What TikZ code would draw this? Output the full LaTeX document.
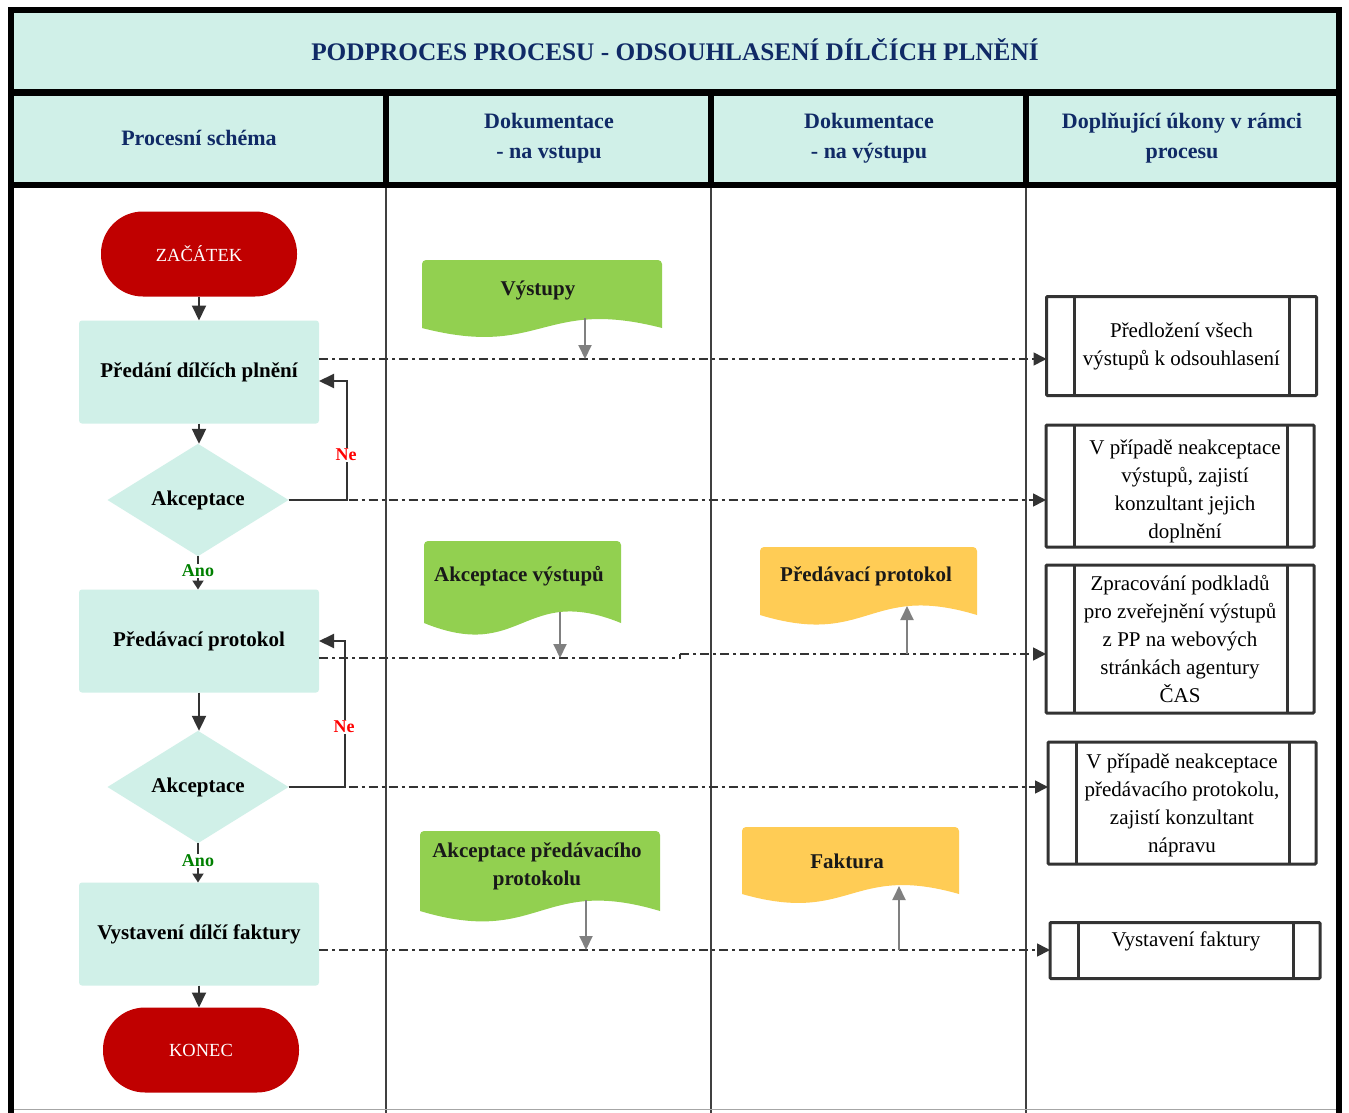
\documentclass[tikz,border=0pt]{standalone}
\usepackage{fontspec}
\setmainfont{Liberation Serif}
\usetikzlibrary{arrows.meta,shapes.geometric,calc}
\definecolor{mint}{RGB}{208,240,232}
\definecolor{navy}{RGB}{16,42,102}
\definecolor{termred}{RGB}{192,0,0}
\definecolor{docgreen}{RGB}{146,208,80}
\definecolor{docyellow}{RGB}{255,204,85}
\definecolor{linegray}{RGB}{64,64,64}
\definecolor{arrowgray}{RGB}{128,128,128}
\definecolor{darkln}{RGB}{51,51,51}
\definecolor{anogreen}{RGB}{0,128,0}
\newcommand\docshp[6]{%
  \fill[#6] (#1,#4) [rounded corners=4pt] -- (#1,#2) -- (#3,#2) [sharp corners] -- (#3,#4)
    .. controls ({(#1+#3)/2},{#4-#5}) and ({(#1+#3)/2},{#4+#5}) .. (#1,#4) -- cycle;}
\newcommand\ppl[1]{%
  \draw[ppin] ([xshift=28pt]#1.north west) -- ([xshift=28pt]#1.south west);
  \draw[ppin] ([xshift=-27pt]#1.north east) -- ([xshift=-27pt]#1.south east);}
\begin{document}
\begin{tikzpicture}[x=1pt,y=-1pt,
  every node/.style={inner sep=0pt, outer sep=0pt},
  proc/.style={rectangle, rounded corners=3pt, fill=mint, minimum width=240pt, minimum height=103pt, font=\fontsize{21}{26}\selectfont\bfseries},
  dec/.style={diamond, fill=mint, minimum width=181pt, minimum height=108pt, font=\fontsize{21}{26}\selectfont\bfseries},
  term/.style={rectangle, rounded corners=42pt, fill=termred, minimum width=196pt, minimum height=85pt, text=white, font=\fontsize{18.5}{22}\selectfont},
  flow/.style={draw=darkln, line width=2pt, -{Triangle[length=15pt,width=14pt]}},
  flowsm/.style={draw=darkln, line width=2pt, -{Triangle[length=9pt,width=11pt]}},
  dd/.style={draw=darkln, line width=1.6pt, dash pattern=on 9pt off 4pt on 3pt off 4pt},
  ddarrow/.style={dd, -{Triangle[length=13pt,width=13pt]}},
  garrow/.style={draw=arrowgray, line width=2pt, -{Triangle[length=14pt,width=13pt]}},
  hdr/.style={font=\fontsize{22}{30}\selectfont\bfseries, text=navy, align=center},
  doctext/.style={font=\fontsize{21}{28}\selectfont\bfseries, text=black!90, align=center},
  body/.style={font=\fontsize{21}{28}\selectfont, align=center},
  pp/.style={draw=darkln, line width=3pt, rectangle, rounded corners=1pt, align=center, font=\fontsize{21}{28}\selectfont},
  ppin/.style={draw=darkln, line width=3pt},
  ne/.style={font=\fontsize{18}{20}\selectfont\bfseries, text=red, fill=white, inner sep=1.5pt},
  ano/.style={font=\fontsize{18}{20}\selectfont\bfseries, text=anogreen, fill=white, inner sep=1pt}
]
\useasboundingbox (0,0) rectangle (1349,1113);
% frame
\fill[white] (0,0) rectangle (1349,1113);
\fill[mint] (11,10) rectangle (1340,185);
\draw[line width=1.5pt, linegray] (386,185) -- (386,1113);
\draw[line width=1.5pt, linegray] (711,185) -- (711,1113);
\draw[line width=1.5pt, linegray] (1026,185) -- (1026,1113);
\draw[line width=1.5pt, black!35] (11,1109.5) -- (1340,1109.5);
\draw[line width=6.5pt, black, line join=miter] (11,1113) -- (11,10) -- (1339,10) -- (1339,1113);
\draw[line width=7pt, black] (11,93) -- (1339,93);
\draw[line width=6.5pt, black] (11,185) -- (1339,185);
\draw[line width=6pt, black] (386,93) -- (386,185);
\draw[line width=6pt, black] (711,93) -- (711,185);
\draw[line width=6pt, black] (1026,93) -- (1026,185);
% title and headers
\node[font=\fontsize{25.3}{30}\selectfont\bfseries, text=navy] (title) at (675,50) {PODPROCES PROCESU - ODSOUHLASENÍ DÍLČÍCH PLNĚNÍ};
\node[hdr] (h1) at (199,138) {Procesní schéma};
\node[hdr] (h2) at (549,138) {Dokumentace\\- na vstupu};
\node[hdr] (h3) at (869,138) {Dokumentace\\- na výstupu};
\node[hdr] (h4) at (1182,138) {Doplňující úkony v rámci\\procesu};
% flow nodes
\node[term] (start) at (199,254) {ZAČÁTEK};
\node[proc] (p1) at (199,372) {Předání dílčích plnění};
\node[dec] (d1) at (198,500) {Akceptace};
\node[proc] (p2) at (199,641) {Předávací protokol};
\node[dec] (d2) at (198,787) {Akceptace};
\node[proc] (p3) at (199,934) {Vystavení dílčí faktury};
\node[term] (end) at (201,1050) {KONEC};
% right column boxes
\node[pp, minimum width=270pt, minimum height=99pt] (A) at (1181.5,346) {Předložení všech\\výstupů k odsouhlasení};
\node[pp, minimum width=268pt, minimum height=122pt] (B) at (1180,486) {};
\node[body] (Bt) at (1185,491) {V případě neakceptace\\výstupů, zajistí\\konzultant jejich\\doplnění};
\node[pp, minimum width=268pt, minimum height=148pt] (C) at (1180,639) {Zpracování podkladů\\pro zveřejnění výstupů\\z PP na webových\\stránkách agentury\\ČAS};
\node[pp, minimum width=268pt, minimum height=122pt] (D) at (1182,803) {};
\node[body] (Dt) at (1182,805) {V případě neakceptace\\předávacího protokolu,\\zajistí konzultant\\nápravu};
\node[pp, minimum width=270pt, minimum height=56pt] (E) at (1185,950.5) {};
\node[body] (Et) at (1186,941) {Vystavení faktury};
\ppl{A}\ppl{B}\ppl{C}\ppl{D}\ppl{E}
% documents
\docshp{422}{260}{662}{328}{31}{docgreen}
\node[doctext] (doc1) at (538,290) {Výstupy};
\docshp{424}{541}{621}{623}{40}{docgreen}
\node[doctext] (doc2) at (519,576) {Akceptace výstupů};
\docshp{760}{547}{977}{615}{33}{docyellow}
\node[doctext] (doc3) at (866,576) {Předávací protokol};
\docshp{420}{831}{660}{911}{36}{docgreen}
\node[doctext] (doc4) at (537,866) {Akceptace předávacího\\protokolu};
\docshp{742}{827}{959}{894}{31}{docyellow}
\node[doctext] (doc5) at (847,861) {Faktura};
% dash-dot connectors
\coordinate (s1) at ([yshift=13pt]p1.east);
\draw[ddarrow] (s1) -- (s1 -| A.west);
\draw[ddarrow] (d1.east) -- (d1.east -| B.west);
\coordinate (s3) at ([yshift=-17pt]p2.east);
\draw[dd] (s3) -- ++(361,0) coordinate (s3m) -- ++(0,-4) coordinate (s3n);
\draw[ddarrow] (s3n) -- (s3n -| C.west);
\draw[ddarrow] (d2.east) -- (d2.east -| D.west);
\coordinate (s5) at ([yshift=-16pt]p3.east);
\draw[ddarrow] (s5) -- (s5 -| E.west);
% gray document arrows
\coordinate (g1) at (585,318);
\draw[garrow] (g1) -- (g1 |- s1);
\coordinate (g2) at (560,612);
\draw[garrow] (g2) -- (g2 |- s3);
\coordinate (g3) at (907,606);
\draw[garrow] (g3 |- s3n) -- (g3);
\coordinate (g4) at (586,900);
\draw[garrow] (g4) -- (g4 |- s5);
\coordinate (g5) at (899,886);
\draw[garrow] (g5 |- s5) -- (g5);
% flow arrows
\draw[flow] (start.south) -- (start.south |- p1.north);
\draw[flow] (p1.south) -- (p1.south |- d1.north);
\draw[flowsm] (d1.south) -- (d1.south |- p2.north);
\node[ano] (ano1) at (198,571) {Ano};
\draw[flow] (p2.south) -- (p2.south |- d2.north);
\draw[flowsm] (d2.south) -- (d2.south |- p3.north);
\node[ano] (ano2) at (198,861) {Ano};
\draw[flow] (p3.south) -- (p3.south |- end.north);
% Ne loops
\coordinate (n1) at ([yshift=-9pt]p1.east);
\draw[flow] (d1.east) -- ++(58,0) |- (n1);
\node[ne] (ne1) at (346,455) {Ne};
\draw[flow] (d2.east) -- ++(56,0) |- (p2.east);
\node[ne] (ne2) at (344,727) {Ne};
\end{tikzpicture}
\end{document}
